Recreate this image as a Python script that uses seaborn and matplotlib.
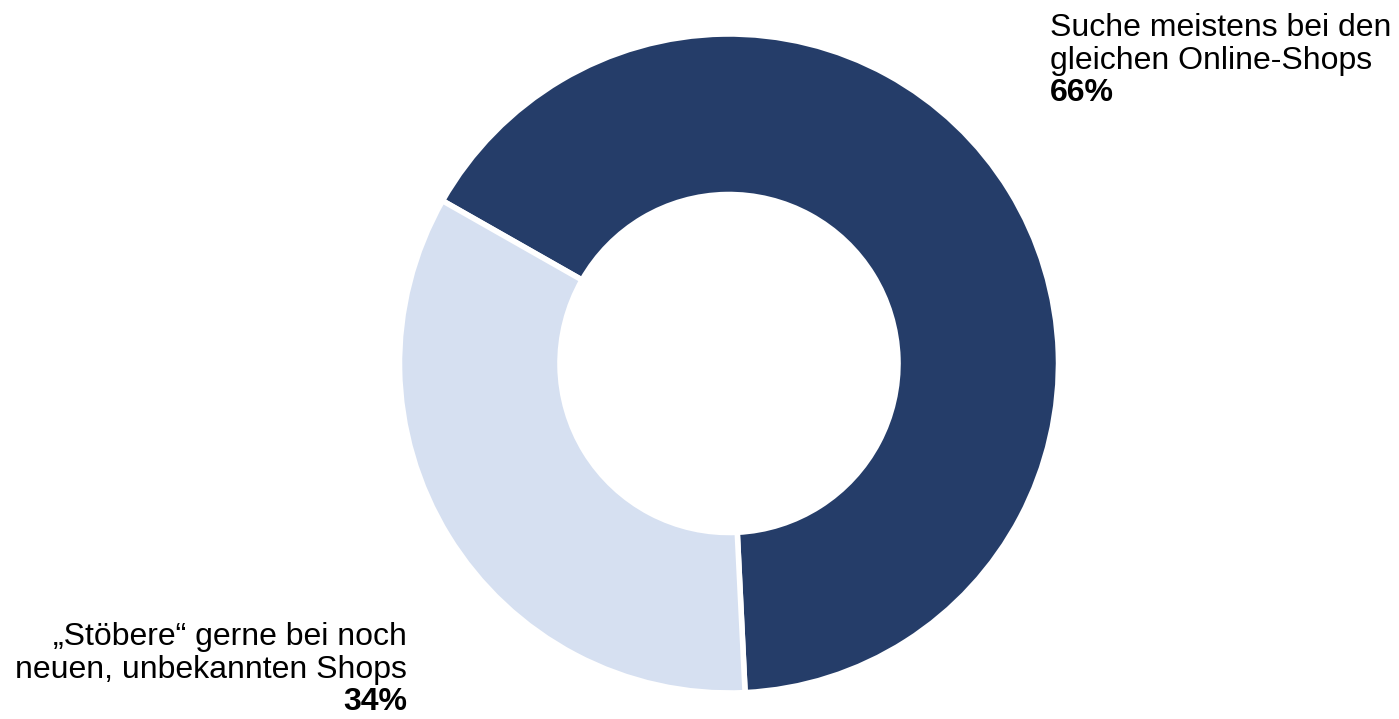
import matplotlib
matplotlib.use("Agg")
import matplotlib.pyplot as plt
import seaborn as sns

# Survey answers and shares (percent)
category_lines = [["Suche meistens bei den", "gleichen Online-Shops"],
                  ["„Stöbere“ gerne bei noch", "neuen, unbekannten Shops"]]
shares = [66, 34]
colors = ["#253D69", "#D6E0F1"]

sns.set_theme(style="white")
plt.rcParams["font.family"] = ["Liberation Sans", "DejaVu Sans"]

W, H = 1399, 719
fig = plt.figure(figsize=(W / 100, H / 100), dpi=100)
ax = fig.add_axes([0, 0, 1, 1])

cx, cy = 729, H - 363.5
r_out, r_in = 329.5, 169
ax.pie(shares, colors=colors, startangle=-87.2, counterclock=True,
       center=(cx, cy), radius=r_out, frame=True,
       wedgeprops=dict(width=r_out - r_in, edgecolor="white", linewidth=4))
ax.set_xlim(0, W)
ax.set_ylim(0, H)
ax.set_aspect("equal")
ax.axis("off")

fs = 23
lh = 32.5


def draw_label(x, first_baseline, lines, share, ha):
    y = H - first_baseline
    for line in lines:
        ax.text(x, y, line, ha=ha, va="baseline", fontsize=fs, color="black")
        y -= lh
    ax.text(x, y, f"{share}%", ha=ha, va="baseline", fontsize=fs,
            color="black", fontweight="bold")


draw_label(1050, 36, category_lines[0], shares[0], "left")
draw_label(407, 645.5, category_lines[1], shares[1], "right")

fig.savefig("out.png", dpi=100)
